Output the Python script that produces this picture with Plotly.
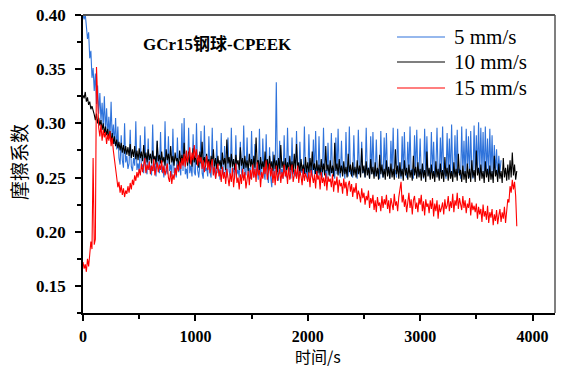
import plotly.graph_objects as go

# sampling times (s), one reading every 10 s
T = list(range(0, 3861, 10))

series_names = ["5 mm/s", "10 mm/s", "15 mm/s"]

# friction coefficient values in thousandths (one row = 100 s)
mu_5_milli = [
    400, 396, 401, 390, 378, 384, 360, 367, 342, 351,
    330, 346, 318, 335, 309, 328, 302, 319, 296, 325,
    292, 314, 289, 306, 286, 320, 284, 299, 281, 305,
    276, 297, 268, 262, 289, 266, 259, 300, 264, 270,
    258, 263, 294, 260, 256, 268, 261, 302, 257, 263,
    255, 289, 259, 262, 254, 297, 258, 253, 286, 257,
    261, 252, 299, 256, 263, 251, 284, 258, 254, 292,
    255, 260, 250, 302, 257, 253, 288, 256, 262, 251,
    295, 254, 259, 250, 287, 255, 261, 252, 300, 256,
    305, 253, 258, 249, 296, 254, 261, 251, 290, 255,
    252, 300, 257, 250, 262, 293, 254, 249, 298, 256,
    259, 251, 288, 255, 250, 296, 253, 260, 249, 284,
    254, 258, 248, 291, 255, 252, 279, 256, 250, 287,
    256, 251, 296, 254, 259, 249, 289, 253, 257, 250,
    283, 255, 250, 298, 256, 252, 287, 254, 259, 249,
    293, 255, 250, 281, 254, 258, 248, 295, 253, 251,
    286, 254, 248, 290, 252, 245, 278, 250, 241, 274,
    252, 256, 338, 255, 247, 284, 253, 258, 249, 289,
    254, 250, 296, 255, 259, 249, 287, 253, 257, 251,
    293, 255, 249, 283, 254, 258, 250, 297, 253, 256,
    249, 290, 254, 258, 250, 285, 253, 293, 255, 249,
    288, 254, 259, 250, 296, 253, 257, 249, 282, 255,
    251, 291, 254, 258, 249, 287, 253, 295, 256, 250,
    284, 254, 258, 249, 292, 255, 251, 297, 253, 257,
    250, 289, 254, 258, 249, 294, 255, 252, 283, 254,
    258, 250, 296, 254, 259, 249, 288, 253, 292, 256,
    251, 285, 254, 258, 249, 293, 255, 250, 287, 254,
    291, 253, 258, 249, 284, 254, 296, 251, 257, 250,
    295, 254, 258, 249, 288, 253, 292, 255, 250, 283,
    254, 297, 253, 258, 249, 289, 255, 294, 251, 256,
    286, 253, 258, 249, 295, 254, 288, 252, 257, 250,
    292, 254, 283, 250, 258, 296, 253, 249, 287, 255,
    297, 252, 257, 249, 291, 254, 286, 250, 299, 253,
    256, 289, 251, 294, 254, 258, 249, 297, 253, 284,
    251, 295, 254, 288, 250, 293, 256, 249, 298, 253,
    289, 254, 301, 251, 296, 255, 292, 250, 297, 254,
    286, 251, 295, 253, 289, 249, 280, 254, 276, 250,
    270, 255, 266,
]

mu_10_milli = [
    326, 323, 329, 320, 324, 317, 320, 313, 316, 310,
    308, 303, 309, 300, 305, 298, 303, 294, 300, 291,
    297, 289, 295, 286, 293, 283, 291, 281, 288, 279,
    285, 277, 283, 275, 282, 273, 280, 272, 279, 271,
    278, 270, 281, 268, 276, 269, 279, 267, 275, 266,
    277, 268, 274, 265, 280, 267, 273, 264, 276, 266,
    272, 263, 275, 266, 270, 262, 284, 265, 271, 263,
    274, 264, 269, 261, 276, 266, 272, 262, 279, 264,
    270, 261, 273, 265, 268, 260, 275, 263, 271, 262,
    282, 264, 270, 261, 274, 263, 268, 260, 277, 264,
    271, 262, 268, 259, 274, 263, 283, 262, 269, 260,
    272, 261, 267, 259, 270, 262, 276, 260, 268, 258,
    270, 261, 266, 258, 273, 262, 268, 257, 285, 263,
    269, 259, 272, 260, 267, 257, 271, 262, 266, 257,
    278, 261, 268, 258, 270, 259, 266, 256, 272, 260,
    267, 257, 270, 259, 287, 262, 266, 256, 269, 258,
    265, 256, 274, 260, 267, 255, 270, 258, 265, 256,
    271, 258, 266, 255, 268, 257, 280, 259, 265, 255,
    268, 256, 264, 254, 270, 257, 265, 255, 272, 256,
    281, 258, 264, 254, 267, 256, 262, 253, 269, 255,
    264, 254, 268, 256, 274, 257, 263, 253, 266, 254,
    262, 252, 267, 255, 263, 252, 279, 256, 262, 252,
    266, 254, 261, 251, 282, 256, 263, 252, 267, 254,
    261, 251, 265, 253, 260, 250, 272, 255, 262, 251,
    264, 252, 260, 250, 266, 253, 261, 250, 277, 254,
    261, 250, 265, 252, 259, 249, 267, 253, 260, 249,
    264, 251, 259, 248, 271, 253, 262, 250, 258, 248,
    266, 251, 260, 249, 263, 250, 258, 248, 276, 253,
    261, 249, 264, 251, 258, 247, 266, 252, 259, 248,
    262, 250, 257, 247, 270, 252, 260, 249, 264, 250,
    258, 247, 263, 250, 257, 246, 274, 251, 259, 248,
    262, 249, 256, 246, 265, 250, 258, 247, 263, 249,
    257, 246, 269, 251, 259, 247, 262, 249, 256, 246,
    264, 250, 258, 247, 272, 252, 257, 246, 261, 248,
    256, 245, 263, 249, 258, 246, 266, 250, 257, 246,
    275, 252, 259, 247, 262, 249, 256, 245, 265, 250,
    258, 246, 261, 248, 256, 245, 270, 251, 257, 246,
    263, 249, 256, 245, 268, 250, 259, 247, 262, 248,
    266, 250, 273, 252, 262, 248, 256,
]

mu_15_milli = [
    172, 166, 170, 163, 175, 168, 179, 191, 184, 268,
    188, 193, 352, 318, 296, 288, 299, 284, 294, 287,
    292, 281, 290, 284, 293, 279, 287, 275, 268, 258,
    250, 241, 246, 236, 243, 234, 240, 232, 238, 235,
    242, 236, 245, 239, 248, 243, 252, 247, 255, 250,
    258, 252, 263, 255, 260, 268, 254, 262, 257, 265,
    253, 261, 256, 267, 252, 259, 264, 255, 262, 257,
    266, 254, 261, 252, 258, 263, 250, 246, 256, 244,
    253, 248, 259, 252, 262, 256, 265, 258, 268, 261,
    272, 260, 275, 264, 270, 278, 262, 273, 266, 280,
    268, 276, 261, 271, 264, 269, 258, 266, 255, 263,
    270, 257, 265, 254, 262, 267, 252, 260, 249, 258,
    263, 251, 257, 246, 260, 249, 255, 244, 258, 250,
    242, 254, 246, 259, 241, 252, 263, 245, 250, 239,
    253, 244, 258, 247, 255, 240, 251, 256, 243, 257,
    248, 262, 250, 258, 246, 264, 252, 257, 241, 255,
    249, 260, 253, 266, 248, 258, 263, 251, 259, 245,
    256, 243, 261, 247, 253, 258, 245, 255, 249, 262,
    251, 257, 244, 260, 248, 255, 262, 246, 253, 258,
    249, 261, 245, 256, 251, 243, 258, 247, 254, 250,
    246, 255, 241, 257, 250, 245, 253, 240, 256, 248,
    252, 239, 255, 245, 250, 242, 254, 238, 251, 246,
    249, 241, 253, 237, 247, 243, 251, 236, 248, 242,
    245, 235, 249, 240, 246, 233, 243, 247, 237, 244,
    232, 241, 236, 245, 230, 238, 234, 227, 240, 231,
    236, 225, 233, 229, 238, 222, 231, 226, 234, 220,
    229, 218, 232, 224, 227, 219, 233, 222, 230, 225,
    234, 221, 229, 217, 231, 226, 220, 235, 224, 228,
    219, 232, 238, 246, 227, 234, 223, 230, 218, 228,
    236, 222, 230, 216, 229, 233, 221, 227, 218, 231,
    225, 234, 219, 228, 215, 230, 223, 226, 217, 229,
    221, 231, 214, 226, 219, 229, 212, 225, 218, 222,
    227, 216, 230, 221, 224, 233, 219, 228, 222, 235,
    218, 229, 224, 236, 221, 231, 226, 220, 233, 222,
    229, 217, 226, 222, 231, 215, 227, 220, 224, 218,
    226, 212, 223, 216, 221, 209, 225, 214, 219, 211,
    224, 208, 218, 213, 221, 206, 216, 210, 220, 207,
    215, 221, 209, 218, 212, 223, 208, 219, 230, 227,
    242, 236, 248, 239, 246, 233, 205,
]

colors = ["#2f73db", "#000000", "#ff0000"]

x_ticks = [0, 1000, 2000, 3000, 4000]
y_ticks = [0.15, 0.20, 0.25, 0.30, 0.35, 0.40]

serif = "Liberation Serif, Times New Roman, serif"
cjk = "Noto Sans CJK SC, sans-serif"

fig = go.Figure()
for name, milli, c in zip(series_names, [mu_5_milli, mu_10_milli, mu_15_milli], colors):
    vals = [v / 1000 for v in milli]
    fig.add_trace(go.Scatter(
        x=T[:len(vals)], y=vals, mode="lines", name=name,
        line=dict(color=c, width=1.1), showlegend=False,
    ))

# helpers: pixel position -> paper coordinates
L = 83
W = 472
H = 298
B = 313
def px_x(p):
    return (p - L) / W
def px_y(p):
    return (B - p) / H

shapes = [
    dict(type="line", xref="paper", yref="paper", x0=0, x1=1, y0=1, y1=1,
         line=dict(color="#555555", width=2)),
    dict(type="line", xref="paper", yref="paper", x0=1, x1=1, y0=0, y1=1,
         line=dict(color="#555555", width=1.5)),
]
annotations = [
    dict(text="<b>GCr15钢球-CPEEK</b>", xref="paper", yref="paper",
         x=px_x(141), y=px_y(45), xanchor="left", yanchor="middle", showarrow=False,
         font=dict(family="Liberation Serif, Noto Sans CJK SC", size=17, color="black")),
    dict(text="摩擦系数", xref="paper", yref="paper", x=px_x(18), y=px_y(162),
         xanchor="center", yanchor="middle", textangle=-90, showarrow=False,
         font=dict(family=cjk, size=19, color="black")),
    dict(text="时间/s", xref="paper", yref="paper", x=px_x(318), y=px_y(356),
         xanchor="center", yanchor="middle", showarrow=False,
         font=dict(family=cjk, size=16, color="black")),
]
legend_rows = [37, 62, 88]
for name, c, ry in zip(series_names, colors, legend_rows):
    shapes.append(dict(type="line", xref="paper", yref="paper",
                       x0=px_x(397), x1=px_x(445), y0=px_y(ry), y1=px_y(ry),
                       line=dict(color=c, width=1.2)))
    annotations.append(dict(text=name, xref="paper", yref="paper",
                            x=px_x(452), y=px_y(ry), xanchor="left", yanchor="middle",
                            showarrow=False,
                            font=dict(family=serif, size=21, color="black")))

fig.update_layout(
    width=561, height=369,
    margin=dict(l=83, r=6, t=15, b=56),
    paper_bgcolor="white", plot_bgcolor="white",
    showlegend=False,
    shapes=shapes,
    annotations=annotations,
)

fig.update_xaxes(
    range=[0, 4200], tickvals=x_ticks, ticks="outside", ticklen=6, tickwidth=1.5,
    tickcolor="black", showline=True, linecolor="black", linewidth=1.5,
    showgrid=False, zeroline=False, automargin=False, ticklabelstandoff=2,
    tickfont=dict(family=serif, size=16, color="black", weight="bold"),
    minor=dict(dtick=500, tick0=0, ticks="outside", ticklen=4, tickwidth=1.5,
               tickcolor="black", showgrid=False),
)
fig.update_yaxes(
    range=[0.125, 0.40], tickvals=y_ticks, tickformat=".2f", ticks="outside", ticklen=6,
    tickwidth=1.5, tickcolor="black", showline=True, linecolor="black", linewidth=1.5,
    showgrid=False, zeroline=False, automargin=False, ticklabelstandoff=6,
    tickfont=dict(family=serif, size=17, color="black", weight="bold"),
    minor=dict(dtick=0.025, tick0=0.125, ticks="outside", ticklen=4, tickwidth=1.5,
               tickcolor="black", showgrid=False),
)

fig.write_html(
    "out.html",
    config={"displayModeBar": False},
    post_script="document.body.style.margin='0px';document.body.style.overflow='hidden';",
)
